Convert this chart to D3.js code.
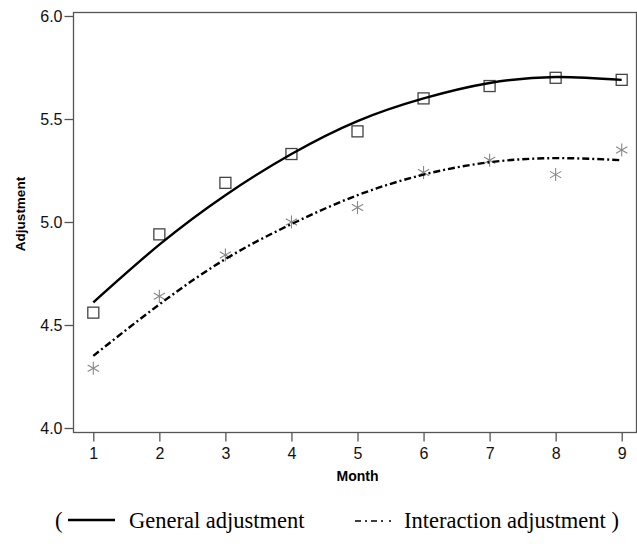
<!DOCTYPE html>
<html>
<head>
<meta charset="utf-8">
<script src="https://cdn.jsdelivr.net/npm/d3@7"></script>
<style>
  body { margin: 0; background: #fff; }
  svg { display: block; }
  .legend { font-family: "Liberation Serif", "Times New Roman", Tinos, "DejaVu Serif", serif; font-size: 22.5px; }
</style>
</head>
<body>
<svg id="chart" width="637" height="544"></svg>
<script>
let months = [1, 2, 3, 4, 5, 6, 7, 8, 9];
let generalObs = [4.56, 4.94, 5.19, 5.33, 5.44, 5.60, 5.66, 5.70, 5.69];
let interactionObs = [4.29, 4.64, 4.84, 5.00, 5.07, 5.24, 5.30, 5.23, 5.35];
// fitted curves at each month
let generalFit = [4.61, 4.89, 5.13, 5.33, 5.49, 5.60, 5.675, 5.704, 5.69];
let interactionFit = [4.35, 4.60, 4.82, 4.99, 5.13, 5.23, 5.29, 5.31, 5.30];
let yTicks = [4.0, 4.5, 5.0, 5.5, 6.0];

let svg = d3.select("#chart");

let xScale = d3.scaleLinear().domain([1, 9]).range([93.3, 621.7]);
let yScale = d3.scaleLinear().domain([4, 6]).range([428, 16]);

let axisColor = "#555";

// frame
svg.append("rect")
  .attr("x", 73.5)
  .attr("y", 12.5)
  .attr("width", 637 - 73.5 - 0.5)
  .attr("height", 432.5 - 12.5)
  .style("fill", "none")
  .style("stroke", axisColor)
  .style("stroke-width", 1.3);

let yAxis = d3.axisLeft(yScale).tickValues(yTicks).tickFormat(d3.format(".1f")).tickSize(9).tickPadding(2);
let xAxis = d3.axisBottom(xScale).tickValues(months).tickFormat(d3.format("d")).tickSize(9).tickPadding(6);

let gy = svg.append("g")
  .attr("transform", "translate(73.5,0)")
  .call(yAxis);
let gx = svg.append("g")
  .attr("transform", "translate(0,432.5)")
  .call(xAxis);

[gx, gy].forEach(function(g) {
  g.select(".domain").remove();
  g.selectAll("line").style("stroke", axisColor).style("stroke-width", 1.3);
  g.selectAll("text")
    .style("font-family", "Arial, 'Liberation Sans', sans-serif")
    .style("font-size", "16px")
    .style("fill", "#111");
});

// axis titles
svg.append("text")
  .attr("x", xScale(5))
  .attr("y", 481)
  .attr("text-anchor", "middle")
  .style("font-family", "Arial, 'Liberation Sans', sans-serif")
  .style("font-weight", "bold")
  .style("font-size", "14px")
  .text("Month");

svg.append("text")
  .attr("transform", "translate(25,214) rotate(-90)")
  .attr("text-anchor", "middle")
  .style("font-family", "Arial, 'Liberation Sans', sans-serif")
  .style("font-weight", "bold")
  .style("font-size", "13.5px")
  .text("Adjustment");

let line = d3.line()
  .x(function(d) { return xScale(d.m); })
  .y(function(d) { return yScale(d.v); })
  .curve(d3.curveNatural);

function pairs(vals) {
  return months.map(function(m, i) { return { m: m, v: vals[i] }; });
}

// asterisks (interaction)
let star = svg.selectAll(".star")
  .data(pairs(interactionObs))
  .enter()
  .append("g")
  .attr("transform", function(d) { return "translate(" + xScale(d.m) + "," + yScale(d.v) + ")"; });
[90, 30, 150].forEach(function(a) {
  let r = 6.5;
  let dx = r * Math.cos(a * Math.PI / 180);
  let dy = r * Math.sin(a * Math.PI / 180);
  star.append("line")
    .attr("x1", -dx).attr("y1", -dy)
    .attr("x2", dx).attr("y2", dy)
    .style("stroke", "#888")
    .style("stroke-width", 1.1);
});

// squares (general)
svg.selectAll(".sq")
  .data(pairs(generalObs))
  .enter()
  .append("rect")
  .attr("x", function(d) { return xScale(d.m) - 5.5; })
  .attr("y", function(d) { return yScale(d.v) - 5.5; })
  .attr("width", 11)
  .attr("height", 11)
  .style("fill", "none")
  .style("stroke", "#444")
  .style("stroke-width", 1.3);

svg.append("path")
  .attr("d", line(pairs(generalFit)))
  .style("fill", "none")
  .style("stroke", "#000")
  .style("stroke-width", 2.4);

svg.append("path")
  .attr("d", line(pairs(interactionFit)))
  .style("fill", "none")
  .style("stroke", "#000")
  .style("stroke-width", 2.4)
  .style("stroke-dasharray", "7,3,2,3");

// legend
svg.append("text")
  .attr("class", "legend")
  .attr("x", 55)
  .attr("y", 528)
  .text("(");
svg.append("line")
  .attr("x1", 68).attr("x2", 115)
  .attr("y1", 520).attr("y2", 520)
  .style("stroke", "#000")
  .style("stroke-width", 2.6);
svg.append("text")
  .attr("class", "legend")
  .attr("x", 129)
  .attr("y", 528)
  .text("General adjustment");
svg.append("line")
  .attr("x1", 355).attr("x2", 402)
  .attr("y1", 521).attr("y2", 521)
  .style("stroke", "#000")
  .style("stroke-width", 1.4)
  .style("stroke-dasharray", "6,4,2,4,6,4,2,6,2,20");
svg.append("text")
  .attr("class", "legend")
  .attr("x", 404)
  .attr("y", 528)
  .text("Interaction adjustment )");
</script>
</body>
</html>
